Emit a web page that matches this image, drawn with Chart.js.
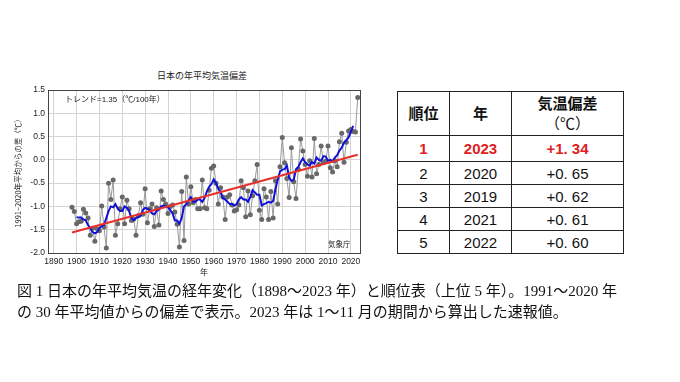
<!DOCTYPE html>
<html lang="ja">
  <head>
    <meta charset="utf-8">
    <title>日本の年平均気温偏差</title>
    <script src="https://cdn.jsdelivr.net/npm/chart.js@4.4.1/dist/chart.umd.min.js"></script>
    <style>
      body{
        margin: 0;
        width: 680px;
        height: 382px;
        background: #fff;
        position: relative;
        overflow: hidden;
        font-family: "Liberation Sans", "Noto Sans CJK JP", sans-serif;
      }
      #chartBox{
        position: absolute;
        left: 0;
        top: 60px;
        width: 380px;
        height: 225px;
      }
      .note{
        position: absolute;
        font-size: 8px;
        color: #222;
        white-space: nowrap;
      }
      #rank{
        position: absolute;
        left: 397px;
        top: 91px;
        width: 227px;
        border-collapse: collapse;
        font-size: 15px;
        color: #111;
      }
      #rank td, #rank th{
        border: 1px solid #222;
        text-align: center;
        padding: 0;
        height: 22px;
      }
      #rank th{
        height: 43px;
        font-weight: bold;
        line-height: 20px;
      }
      #rank tr.top td{
        color: #e02020;
        font-weight: bold;
        height: 25px;
      }
      #caption{
        position: absolute;
        left: 17px;
        top: 281px;
        font-family: "Liberation Serif", "Noto Sans CJK JP", serif;
        font-size: 15px;
        line-height: 21px;
        color: #111;
        white-space: nowrap;
      }
    </style>
  </head>
  <body>

    <div class="note" style="left:157px;top:69px;font-size:9px">日本の年平均気温偏差</div>
    <div id="chartBox">
      <canvas id="tempChart" width="380" height="225"></canvas>
    </div>
    <div class="note" style="left:65px;top:93px">トレンド=1.35（℃/100年）</div>
    <div class="note" style="left:328px;top:238px;font-size:7.5px">気象庁</div>

    <table id="rank"></table>

    <div id="caption">
      図 1 日本の年平均気温の経年変化（1898～2023 年）と順位表（上位 5 年）。1991～2020 年<br>
      の 30 年平均値からの偏差で表示。2023 年は 1～11 月の期間から算出した速報値。
    </div>

    <script>
      // annual anomaly vs 1991-2020 mean, 1898..2023
      const firstYear = 1898;
      const anomalies = [
        -1.02, -1.11, -1.37, -1.33, -1.32, -1.06, -1.14, -1.25, -1.62, -1.47,
        -1.75, -1.48, -1.52, -0.99, -1.44, -1.89, -0.50, -0.85, -0.43, -1.62,
        -1.37, -1.05, -0.80, -1.37, -0.87, -1.05, -1.30, -1.27, -1.62, -1.20,
        -0.92, -1.17, -0.62, -1.35, -1.05, -0.95, -1.43, -1.03, -1.40, -0.67,
        -0.85, -0.95, -1.15, -1.00, -0.97, -1.12, -1.38, -1.87, -0.68, -1.73,
        -0.37, -0.95, -0.58, -0.92, -0.85, -1.05, -1.05, -0.43, -1.03, -1.05,
        -0.65, -0.18, -0.13, -0.50, -0.95, -0.60, -0.80, -1.28, -0.80, -0.75,
        -0.97, -1.10, -1.07, -0.97, -0.45, -0.60, -1.22, -0.67, -1.18, -0.77,
        -0.45, -0.10, -1.08, -1.28, -0.62, -0.80, -1.28, -0.68, -1.25, -0.45,
        -0.95, -0.15, 0.48, -0.06, -0.40, -0.81, 0.26, -0.47, -0.83, -0.20,
        0.45, 0.19, -0.10, -0.35, -0.02, -0.37, 0.46, -0.30, -0.10, 0.30,
        -0.06, -0.03, 0.30, -0.17, -0.26, -0.02, -0.15, 0.39, 0.57, -0.05,
        0.38, 0.62, 0.65, 0.61, 0.60, 1.34
      ];

      // 5-year running mean (blue), 1900..2021
      const meanFirstYear = 1900;
      const runningMean = [
        -1.23, -1.24, -1.24, -1.28, -1.30, -1.40, -1.47, -1.55, -1.58, -1.55,
        -1.47, -1.42, -1.40, -1.25, -1.10, -1.00, -1.02, -0.95, -1.05, -1.10,
        -1.10, -1.00, -1.03, -1.10, -1.25, -1.30, -1.25, -1.23, -1.20, -1.08,
        -1.03, -1.05, -1.08, -1.15, -1.17, -1.10, -1.07, -1.00, -0.98, -1.00,
        -1.02, -1.08, -1.15, -1.30, -1.30, -1.37, -1.25, -1.00, -0.95, -0.87,
        -0.80, -0.90, -0.90, -0.85, -0.85, -0.90, -0.82, -0.68, -0.58, -0.52,
        -0.42, -0.50, -0.62, -0.70, -0.82, -0.85, -0.90, -0.95, -0.95, -0.98,
        -0.95, -0.85, -0.80, -0.85, -0.85, -0.90, -0.80, -0.65, -0.70, -0.75,
        -0.75, -0.98, -0.95, -0.93, -0.90, -0.92, -0.88, -0.63, -0.43, -0.25,
        -0.21, -0.20, -0.12, -0.38, -0.45, -0.43, -0.20, -0.15, -0.05, 0.03,
        -0.05, -0.10, -0.12, -0.05, -0.08, 0.05, 0.00, -0.02, 0.08, 0.07,
        -0.02, 0.00, -0.03, 0.05, 0.10, 0.20, 0.26, 0.37, 0.42, 0.48,
        0.60, 0.73
      ];

      // linear trend (red), end points
      const trendYears = [1898, 2023];
      const trendValues = [-1.56, 0.11];

      const xTicks = [1890, 1900, 1910, 1920, 1930, 1940, 1950, 1960, 1970, 1980, 1990, 2000, 2010, 2020];
      const yTicks = [1.5, 1.0, 0.5, 0.0, -0.5, -1.0, -1.5, -2.0];

      // top 5 table
      const rankNo = ["1", "2", "3", "4", "5"];
      const rankYear = ["2023", "2020", "2019", "2021", "2022"];
      const rankValue = ["+1. 34", "+0. 65", "+0. 62", "+0. 61", "+0. 60"];

      let table = document.getElementById("rank");
      let head = '<tr><th style="width:51px">順位</th><th style="width:61px">年</th><th>気温偏差<br><span style="font-weight:normal">（℃）</span></th></tr>';
      let rows = rankNo.map((r, i) =>
        '<tr' + (i === 0 ? ' class="top"' : '') + '><td>' + r + '</td><td>' + rankYear[i] + '</td><td>' + rankValue[i] + '</td></tr>'
      ).join("");
      table.innerHTML = head + rows;

      const annualPoints = anomalies.map((v, i) => ({ x: firstYear + i, y: v }));
      const meanPoints = runningMean.map((v, i) => ({ x: meanFirstYear + i, y: v }));
      const trendPoints = trendYears.map((yr, i) => ({ x: yr, y: trendValues[i] }));

      const frame = {
        id: "frame",
        afterDatasetsDraw(chart) {
          const a = chart.chartArea;
          const ctx = chart.ctx;
          ctx.save();
          ctx.strokeStyle = "#444";
          ctx.lineWidth = 1;
          ctx.strokeRect(Math.round(a.left) + 0.5, Math.round(a.top) + 0.5,
            Math.round(a.right - a.left), Math.round(a.bottom - a.top));
          ctx.restore();
        }
      };

      let tempCtx = document.getElementById("tempChart").getContext("2d");
      let tempChart = new Chart(tempCtx, {
        type: "line",
        data: {
          datasets: [
            {
              data: trendPoints,
              borderColor: "#e8302a",
              borderWidth: 2,
              pointRadius: 0,
              tension: 0
            },
            {
              data: meanPoints,
              borderColor: "#1010d8",
              borderWidth: 2,
              pointRadius: 0,
              tension: 0
            },
            {
              data: annualPoints,
              borderColor: "#9a9a9a",
              borderWidth: 1,
              pointRadius: 2.5,
              pointBackgroundColor: "#686868",
              pointBorderColor: "#686868",
              pointBorderWidth: 0,
              tension: 0
            }
          ]
        },
        options: {
          responsive: false,
          animation: false,
          layout: {
            padding: { left: 0, right: 20, top: 30, bottom: 8 }
          },
          plugins: {
            legend: { display: false },
            tooltip: { enabled: false }
          },
          scales: {
            x: {
              type: "linear",
              min: 1887.5,
              max: 2024,
              afterBuildTicks: (scale) => {
                scale.ticks = xTicks.map(v => ({ value: v }));
              },
              afterFit: (scale) => { scale.height = 24; },
              grid: { color: "#d4d4d4", drawTicks: false },
              border: { display: false },
              ticks: {
                padding: 4,
                color: "#222",
                font: { size: 8.5, family: "Liberation Sans" },
                maxRotation: 0,
                callback: (v) => String(v)
              },
              title: {
                display: true,
                text: "年",
                color: "#222",
                padding: { top: 0, bottom: 0 },
                font: { size: 8, family: "Noto Sans CJK JP" }
              }
            },
            y: {
              min: -2.0,
              max: 1.5,
              afterBuildTicks: (scale) => {
                scale.ticks = yTicks.map(v => ({ value: v }));
              },
              afterFit: (scale) => { scale.width = 48; },
              grid: { color: "#d4d4d4", drawTicks: false },
              border: { display: false },
              ticks: {
                padding: 3,
                color: "#222",
                font: { size: 8.5, family: "Liberation Sans" },
                callback: (v) => v.toFixed(1)
              },
              title: {
                display: true,
                text: "1991–2020年平均からの差（℃）",
                color: "#222",
                padding: { top: 14, bottom: 0 },
                font: { size: 7.5, family: "Noto Sans CJK JP" }
              }
            }
          }
        },
        plugins: [frame]
      });
    </script>
  </body>
</html>
